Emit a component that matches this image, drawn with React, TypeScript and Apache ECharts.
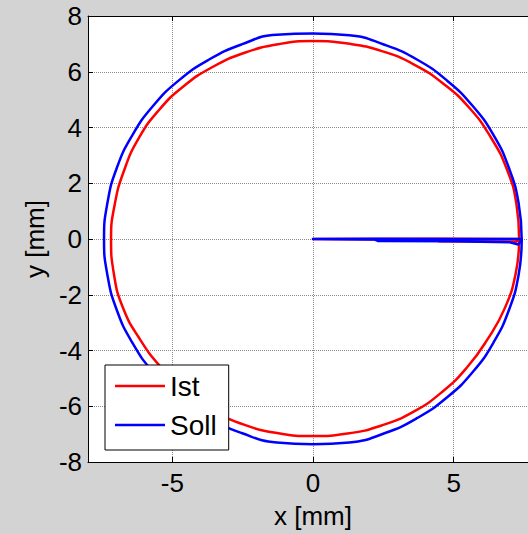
import React, { useEffect, useRef } from "react";
import * as echarts from "echarts";

// Measured contour: actual (Ist) and commanded (Soll) tool path, in mm.
// Each path runs out from the centre along +x, goes once round the circle
// and returns to the centre. The spoke and the ring are drawn as two
// pieces of the same named series so that only the ring is smoothed.
const seriesNames = ["Ist", "Soll"];
const xTickValues = [-5, 0, 5];
const xRange = [-8, 8];
const yRange = [-8, 8];
const yStep = 2;

const istSpoke: [number, number][] = [
  [0, 0], [2.1, 0.0], [4.6, 0.01], [7.33, 0.0],
  [7.33, -0.05], [7.2, -0.1], [4.5, -0.08], [4.3, -0.03], [0, 0],
];

const istRing: [number, number][] = [
  [7.33, 0.0],
  [7.23, 1.27], [6.89, 2.51], [6.32, 3.65], [5.58, 4.68], [4.66, 5.55],
  [3.61, 6.25], [2.45, 6.74], [1.24, 7.01], [0.0, 7.1], [-1.23, 6.99],
  [-2.43, 6.68], [-3.57, 6.17], [-4.6, 5.48], [-5.49, 4.61], [-6.21, 3.59],
  [-6.72, 2.45], [-7.05, 1.24], [-7.18, 0.0], [-7.08, -1.25], [-6.76, -2.46],
  [-6.17, -3.57], [-5.44, -4.56], [-4.56, -5.44], [-3.55, -6.15], [-2.43, -6.67],
  [-1.23, -6.97], [0.0, -7.07], [1.23, -6.98], [2.44, -6.69], [3.58, -6.19],
  [4.6, -5.48], [5.48, -4.6], [6.21, -3.59], [6.82, -2.48], [7.2, -1.27],
  [7.33, -0.05],
];

const sollSpoke: [number, number][] = [
  [0, 0], [2.2, 0.01], [5.0, 0.0], [7.42, 0.0],
  [7.42, -0.05], [7.3, -0.2], [7.0, -0.12], [5.0, -0.08], [2.3, -0.07],
  [2.2, -0.02], [0, 0],
];

const sollRing: [number, number][] = [
  [7.42, 0.0],
  [7.31, 1.29], [6.97, 2.54], [6.43, 3.71], [5.68, 4.77], [4.77, 5.68],
  [3.71, 6.43], [2.54, 6.97], [1.29, 7.31], [0.0, 7.37], [-1.29, 7.33],
  [-2.54, 6.98], [-3.71, 6.43], [-4.77, 5.69], [-5.69, 4.77], [-6.43, 3.71],
  [-6.98, 2.54], [-7.31, 1.29], [-7.43, 0.0], [-7.31, -1.29], [-6.98, -2.54],
  [-6.43, -3.71], [-5.69, -4.77], [-4.77, -5.68], [-3.71, -6.42], [-2.54, -6.96],
  [-1.29, -7.3], [0.0, -7.36], [1.29, -7.3], [2.54, -6.97], [3.71, -6.42],
  [4.77, -5.68], [5.68, -4.77], [6.42, -3.71], [6.97, -2.54], [7.31, -1.29],
  [7.42, -0.05],
];

const FONT = "'Liberation Sans', Arial, Helvetica, sans-serif";
const BG = "#d3d3d3";
const RED = "#ff0000";
const BLUE = "#0000ff";
const GRID_LINE = { show: true, lineStyle: { color: "#8a8a8a", width: 1, type: [1, 1] } };

function pathSeries(name: string, data: [number, number][], color: string, smooth: number | boolean) {
  return {
    name,
    type: "line",
    data,
    smooth,
    showSymbol: false,
    symbol: "none",
    color,
    lineStyle: { color, width: 2.5, join: "round", cap: "round" },
  };
}

export default function App() {
  const ref = useRef<HTMLDivElement>(null);

  useEffect(() => {
    if (!ref.current) return;
    const chart = echarts.init(ref.current, null, { renderer: "svg" });
    chart.setOption({
      animation: false,
      backgroundColor: BG,
      textStyle: { fontFamily: FONT, color: "#000" },
      grid: {
        left: 88,
        top: 16,
        right: 22,
        bottom: 70,
        show: true,
        backgroundColor: "#fff",
        borderWidth: 0,
      },
      legend: {
        data: seriesNames,
        orient: "vertical",
        left: 105,
        top: 365,
        icon: "rect",
        itemWidth: 50,
        itemHeight: 2.5,
        itemGap: 11,
        padding: [7, 12, 11, 10],
        backgroundColor: "#fff",
        borderColor: "#000",
        borderWidth: 1,
        borderRadius: 0,
        textStyle: { fontFamily: FONT, fontSize: 28, lineHeight: 26, color: "#000" },
      },
      xAxis: [
        {
          type: "value",
          min: xRange[0],
          max: xRange[1],
          name: "x [mm]",
          nameLocation: "middle",
          nameGap: 41,
          nameTextStyle: { fontFamily: FONT, fontSize: 26, color: "#000" },
          axisLine: { show: true, onZero: false, lineStyle: { color: "#000", width: 1 } },
          axisTick: { show: true, inside: true, length: 5, customValues: xTickValues, lineStyle: { color: "#000" } },
          axisLabel: { customValues: xTickValues, fontFamily: FONT, fontSize: 26, color: "#000", margin: 8 },
          splitLine: GRID_LINE,
        },
        {
          type: "value",
          position: "top",
          min: xRange[0],
          max: xRange[1],
          axisLine: { show: true, onZero: false, lineStyle: { color: "#000", width: 1 } },
          axisTick: { show: true, inside: true, length: 5, customValues: xTickValues, lineStyle: { color: "#000" } },
          axisLabel: { show: false },
          splitLine: { show: false },
        },
      ],
      yAxis: {
        type: "value",
        min: yRange[0],
        max: yRange[1],
        interval: yStep,
        name: "y [mm]",
        nameLocation: "middle",
        nameGap: 39,
        nameTextStyle: { fontFamily: FONT, fontSize: 26, color: "#000" },
        axisLine: { show: true, onZero: false, lineStyle: { color: "#000", width: 1 } },
        axisTick: { show: true, inside: true, length: 5, lineStyle: { color: "#000" } },
        axisLabel: { fontFamily: FONT, fontSize: 26, color: "#000", margin: 6 },
        splitLine: GRID_LINE,
      },
      series: [
        pathSeries(seriesNames[0], istSpoke, RED, false),
        pathSeries(seriesNames[0], istRing, RED, 0.5),
        pathSeries(seriesNames[1], sollSpoke, BLUE, false),
        pathSeries(seriesNames[1], sollRing, BLUE, 0.5),
      ],
    });
    return () => chart.dispose();
  }, []);

  return (
    <div
      style={{
        position: "fixed",
        left: 0,
        top: 0,
        width: 528,
        height: 534,
        overflow: "hidden",
        background: BG,
      }}
    >
      <div ref={ref} style={{ width: 560, height: 534 }} />
    </div>
  );
}
